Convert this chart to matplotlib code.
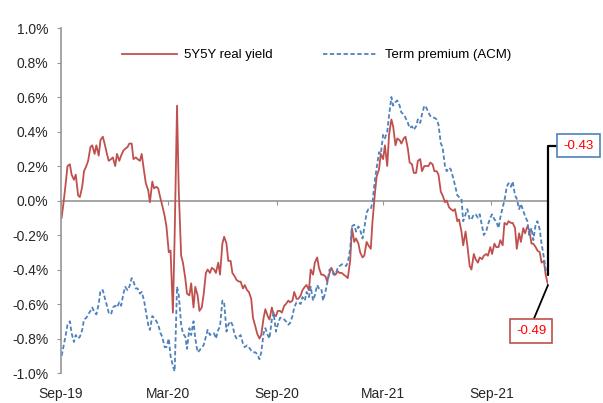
import matplotlib
matplotlib.use('Agg')
import matplotlib.pyplot as plt
import matplotlib.ticker as mticker
import pandas as pd

# twice-weekly readings, % (Mondays and Thursdays, 2 Sep 2019 - 6 Dec 2021)
real_yield = [
    -0.10, -0.02, 0.10, 0.20, 0.21, 0.15, 0.12, 0.15, 0.03, 0.02,
    0.08, 0.17, 0.20, 0.23, 0.31, 0.32, 0.27, 0.32, 0.26, 0.35,
    0.37, 0.33, 0.27, 0.23, 0.24, 0.25, 0.20, 0.27, 0.23, 0.26,
    0.29, 0.30, 0.31, 0.33, 0.33, 0.24, 0.25, 0.24, 0.23, 0.27,
    0.17, 0.10, 0.06, -0.01, 0.11, 0.07, 0.08, 0.07, 0.01, -0.03,
    -0.09, -0.15, -0.30, -0.29, -0.65, -0.20, 0.55, 0.05, -0.32, -0.36,
    -0.45, -0.54, -0.55, -0.48, -0.62, -0.50, -0.55, -0.64, -0.62, -0.55,
    -0.42, -0.40, -0.42, -0.39, -0.40, -0.42, -0.36, -0.43, -0.25, -0.21,
    -0.25, -0.35, -0.35, -0.42, -0.44, -0.46, -0.47, -0.47, -0.51, -0.49,
    -0.52, -0.53, -0.57, -0.68, -0.73, -0.77, -0.80, -0.78, -0.68, -0.63,
    -0.67, -0.69, -0.62, -0.66, -0.67, -0.64, -0.64, -0.65, -0.61, -0.60,
    -0.58, -0.59, -0.58, -0.53, -0.57, -0.57, -0.55, -0.52, -0.50, -0.49,
    -0.52, -0.40, -0.43, -0.36, -0.33, -0.39, -0.43, -0.43, -0.44, -0.47,
    -0.42, -0.39, -0.42, -0.43, -0.41, -0.42, -0.42, -0.43, -0.44, -0.45,
    -0.35, -0.16, -0.24, -0.22, -0.25, -0.30, -0.33, -0.32, -0.24, -0.26,
    -0.28, -0.12, 0.04, 0.14, 0.18, 0.27, 0.24, 0.32, 0.20, 0.38,
    0.47, 0.43, 0.32, 0.36, 0.35, 0.33, 0.36, 0.37, 0.30, 0.22,
    0.21, 0.16, 0.16, 0.23, 0.24, 0.17, 0.20, 0.20, 0.20, 0.22,
    0.21, 0.17, 0.17, 0.15, 0.05, 0.03, -0.01, 0.00, -0.04, -0.05,
    -0.06, -0.05, -0.12, -0.11, -0.18, -0.26, -0.18, -0.26, -0.38, -0.40,
    -0.31, -0.34, -0.36, -0.33, -0.34, -0.32, -0.31, -0.32, -0.27, -0.31,
    -0.25, -0.27, -0.27, -0.23, -0.26, -0.13, -0.14, -0.12, -0.13, -0.13,
    -0.16, -0.28, -0.19, -0.24, -0.16, -0.19, -0.15, -0.17, -0.25, -0.25,
    -0.27, -0.29, -0.30, -0.36, -0.35, -0.43, -0.49,
]
term_premium = [
    -0.90, -0.85, -0.78, -0.72, -0.70, -0.77, -0.82, -0.78, -0.80, -0.79,
    -0.75, -0.69, -0.68, -0.66, -0.64, -0.62, -0.65, -0.66, -0.60, -0.52,
    -0.52, -0.56, -0.61, -0.65, -0.66, -0.62, -0.61, -0.62, -0.59, -0.61,
    -0.54, -0.50, -0.52, -0.50, -0.45, -0.47, -0.51, -0.51, -0.54, -0.53,
    -0.58, -0.64, -0.72, -0.75, -0.67, -0.68, -0.70, -0.72, -0.77, -0.79,
    -0.85, -0.85, -0.80, -0.90, -0.96, -0.99, -0.50, -0.55, -0.72, -0.77,
    -0.79, -0.86, -0.74, -0.78, -0.70, -0.80, -0.88, -0.87, -0.85, -0.84,
    -0.79, -0.75, -0.78, -0.77, -0.77, -0.80, -0.75, -0.73, -0.58, -0.59,
    -0.76, -0.72, -0.70, -0.72, -0.78, -0.80, -0.79, -0.78, -0.83, -0.85,
    -0.84, -0.85, -0.87, -0.88, -0.88, -0.89, -0.92, -0.88, -0.77, -0.74,
    -0.78, -0.80, -0.69, -0.65, -0.76, -0.72, -0.68, -0.68, -0.69, -0.70,
    -0.72, -0.71, -0.67, -0.62, -0.59, -0.59, -0.60, -0.56, -0.58, -0.53,
    -0.56, -0.50, -0.58, -0.55, -0.49, -0.51, -0.51, -0.58, -0.53, -0.48,
    -0.40, -0.40, -0.43, -0.43, -0.39, -0.38, -0.37, -0.37, -0.38, -0.36,
    -0.28, -0.15, -0.14, -0.18, -0.15, -0.17, -0.22, -0.16, -0.07, -0.05,
    -0.05, -0.01, 0.12, 0.19, 0.28, 0.27, 0.38, 0.36, 0.40, 0.49,
    0.60, 0.55, 0.57, 0.58, 0.55, 0.51, 0.50, 0.48, 0.45, 0.42,
    0.43, 0.41, 0.43, 0.47, 0.45, 0.50, 0.55, 0.54, 0.51, 0.49,
    0.48, 0.48, 0.47, 0.44, 0.33, 0.31, 0.20, 0.17, 0.19, 0.18,
    0.13, 0.09, 0.03, 0.02, 0.01, -0.12, -0.08, -0.05, -0.11, -0.11,
    -0.08, -0.08, -0.10, -0.08, -0.15, -0.20, -0.18, -0.14, -0.10, -0.08,
    -0.11, -0.12, -0.16, -0.10, -0.04, 0.00, 0.08, 0.10, 0.08, 0.11,
    0.03, 0.01, -0.05, -0.02, -0.06, -0.09, -0.12, -0.20, -0.16, -0.23,
    -0.14, -0.12, -0.17, -0.25, -0.33, -0.40, -0.43,
]
tick_dates = ['2019-09-01', '2020-03-01', '2020-09-01', '2021-03-01', '2021-09-01']
tick_labels = ['Sep-19', 'Mar-20', 'Sep-20', 'Mar-21', 'Sep-21']

plt.rcParams['font.family'] = ['Liberation Sans', 'DejaVu Sans']
plt.rcParams['font.size'] = 9.5

RED = '#C0504D'
BLUE = '#4F81BD'
GREY = '#969696'
TEXT = '#262626'

mondays = pd.date_range('2019-09-02', '2021-12-06', freq='W-MON')
thursdays = pd.date_range('2019-09-02', '2021-12-06', freq='W-THU')
dates = mondays.union(thursdays)
ticks = pd.to_datetime(tick_dates)

fig = plt.figure(figsize=(6.03, 4.03), dpi=100)
ax = fig.add_axes([0.1012, 0.0744, 0.8076, 0.8561])

ax.plot(dates, real_yield, color=RED, lw=1.3, label='5Y5Y real yield')
ax.plot(dates, term_premium, color=BLUE, lw=1.3, ls=(0, (2.4, 1.4)),
        label='Term premium (ACM)')

ax.set_ylim(-1.0, 1.0)
ax.set_xlim(pd.Timestamp('2019-09-01'), dates[-1])
ax.set_yticks([i / 5 - 1 for i in range(11)])
ax.yaxis.set_major_formatter(mticker.FuncFormatter(lambda v, p: f'{round(v, 1) + 0.0:.1f}%'))
ax.tick_params(axis='y', length=3, color=GREY, pad=6, labelcolor=TEXT, labelsize=10)

ax.set_xticks(ticks)
ax.set_xticklabels(tick_labels)
ax.tick_params(axis='x', length=0, pad=10, labelcolor=TEXT, labelsize=10)

for side in ['top', 'right', 'bottom']:
    ax.spines[side].set_visible(False)
ax.spines['left'].set_color(GREY)
ax.spines['left'].set_linewidth(1.2)

# zero line with the date ticks on it
zero = ax.secondary_xaxis(0.5)
zero.set_alignment('bottom')
zero.set_xticks(ticks)
zero.tick_params(axis='x', direction='out', length=3, color=GREY, labelbottom=False)
zero.spines['bottom'].set_color(GREY)
zero.spines['bottom'].set_linewidth(1.2)

ax.legend(loc='center', bbox_to_anchor=(0.525, 0.8635), bbox_transform=fig.transFigure,
          ncol=2, frameon=False, handlelength=4.2, handletextpad=0.5, columnspacing=3.8)

# end-of-series value labels
ax.annotate(f'{term_premium[-1]:.2f}', xy=(dates[-1], term_premium[-1]),
            xytext=(22, 93), textcoords='offset points', color='red',
            ha='center', va='center',
            bbox=dict(boxstyle='square,pad=0.45', fc='white', ec=BLUE, lw=1.2),
            arrowprops=dict(arrowstyle='-', color='black', lw=1.6, shrinkA=0, shrinkB=0,
                            connectionstyle='angle,angleA=0,angleB=90,rad=0'))
ax.annotate(f'{real_yield[-1]:.2f}', xy=(dates[-1], real_yield[-1]),
            xytext=(-12, -33), textcoords='offset points', color='red',
            ha='center', va='center',
            bbox=dict(boxstyle='square,pad=0.45', fc='white', ec=RED, lw=1.2),
            arrowprops=dict(arrowstyle='-', color='black', lw=1.3, shrinkA=0, shrinkB=0,
                            relpos=(0.5, 1.0)))

fig.savefig('out.png', dpi=100)
